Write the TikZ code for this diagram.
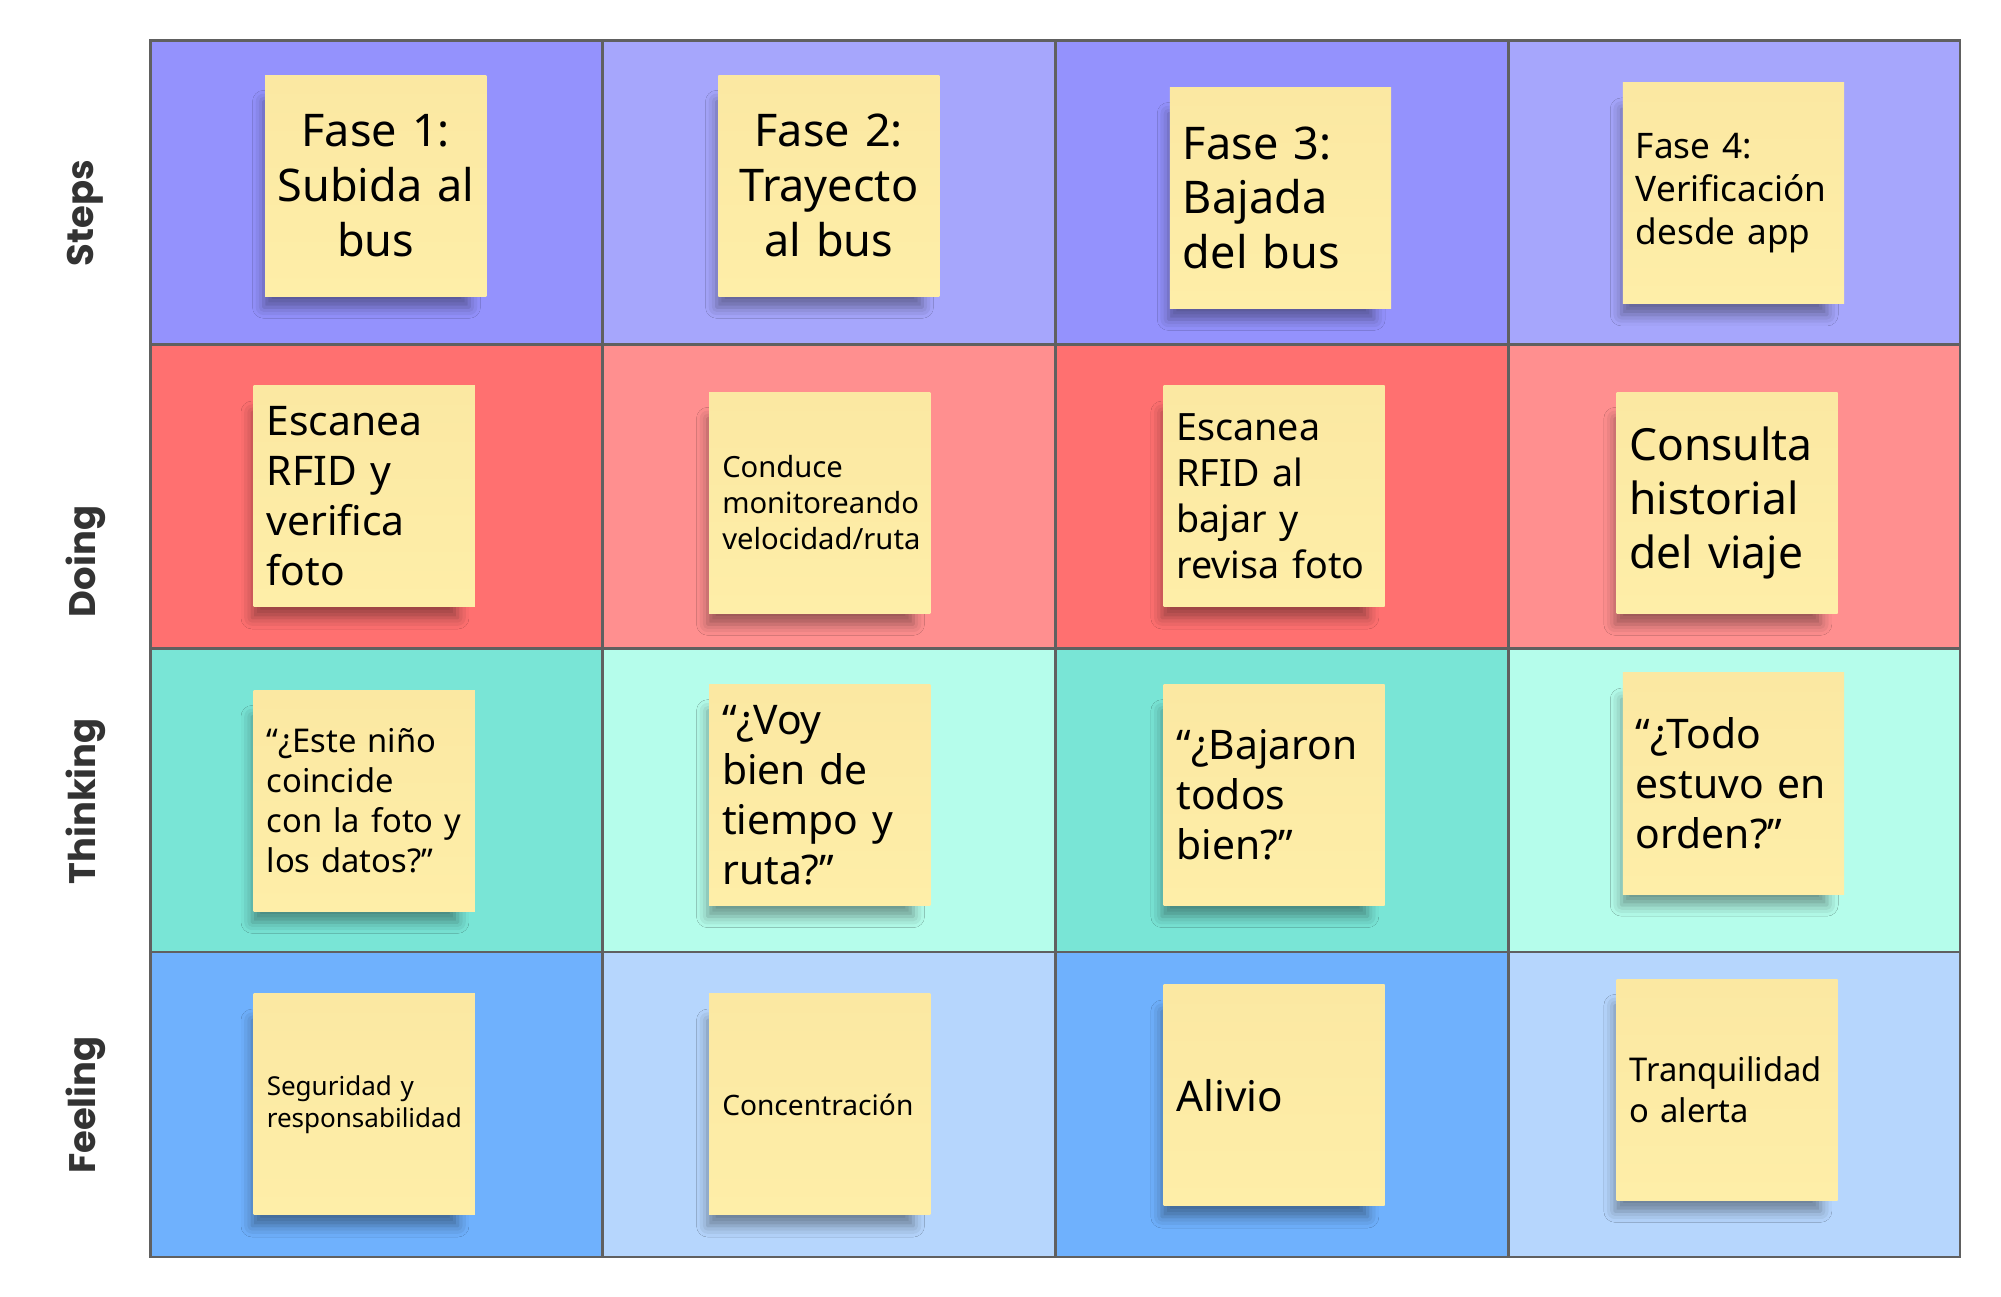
\documentclass[tikz,border=0pt]{standalone}
\usepackage{fontspec}
\setmainfont{Noto Sans}
\newfontfamily\labelfont{Poppins}
\usepackage{tikz}
\usetikzlibrary{shadows.blur}
\usepackage{xcolor}

\definecolor{StepsDark}{RGB}{148,146,253}
\definecolor{StepsLight}{RGB}{166,166,252}
\definecolor{DoingDark}{RGB}{255,112,112}
\definecolor{DoingLight}{RGB}{255,143,143}
\definecolor{ThinkDark}{RGB}{121,229,214}
\definecolor{ThinkLight}{RGB}{181,253,235}
\definecolor{FeelDark}{RGB}{111,177,253}
\definecolor{FeelLight}{RGB}{182,214,253}
\definecolor{StickyYellow}{RGB}{254,238,168}
\definecolor{StickyTop}{RGB}{251,232,162}
\definecolor{GridGray}{RGB}{96,96,96}
\definecolor{LabelGray}{RGB}{51,51,51}

\tikzset{
  sticky/.style={top color=StickyTop, bottom color=StickyYellow,
    minimum width=2.21cm, minimum height=2.21cm, text width=1.95cm,
    inner xsep=0.13cm, inner ysep=0pt, align=left,
    blur shadow={shadow xshift=-0.1cm, shadow yshift=-0.2cm, shadow scale=0.93,
      shadow blur radius=0.12cm, shadow opacity=40}},
  phase/.style={sticky, text width=2.15cm, inner xsep=0.03cm, align=center},
  rowlabel/.style={rotate=90, text=LabelGray,
    font=\labelfont\bfseries\fontsize{10.5}{12}\selectfont}
}

\begin{document}
\begin{tikzpicture}[x=0.01cm, y=-0.01cm]
\useasboundingbox (0,0) rectangle (2001,1296);

% cells
\fill[StepsDark]  (150.6,40.8) rectangle (602.3,344.5);
\fill[StepsLight] (602.3,40.8) rectangle (1055.3,344.5);
\fill[StepsDark]  (1055.3,40.8) rectangle (1508.3,344.5);
\fill[StepsLight] (1508.3,40.8) rectangle (1960,344.5);
\fill[DoingDark]  (150.6,344.5) rectangle (602.3,648.2);
\fill[DoingLight] (602.3,344.5) rectangle (1055.3,648.2);
\fill[DoingDark]  (1055.3,344.5) rectangle (1508.3,648.2);
\fill[DoingLight] (1508.3,344.5) rectangle (1960,648.2);
\fill[ThinkDark]  (150.6,648.2) rectangle (602.3,952);
\fill[ThinkLight] (602.3,648.2) rectangle (1055.3,952);
\fill[ThinkDark]  (1055.3,648.2) rectangle (1508.3,952);
\fill[ThinkLight] (1508.3,648.2) rectangle (1960,952);
\fill[FeelDark]   (150.6,952) rectangle (602.3,1257);
\fill[FeelLight]  (602.3,952) rectangle (1055.3,1257);
\fill[FeelDark]   (1055.3,952) rectangle (1508.3,1257);
\fill[FeelLight]  (1508.3,952) rectangle (1960,1257);

% grid
\draw[GridGray, line width=0.8pt] (150.6,40.8) rectangle (1960,1257);
\foreach \x in {602.3,1055.3,1508.3}
  \draw[GridGray, line width=0.8pt] (\x,40.8) -- (\x,1257);
\foreach \y in {344.5,648.2,952}
  \draw[GridGray, line width=0.8pt] (150.6,\y) -- (1960,\y);

% row labels
\node[rowlabel] (steps)    at (85.5,213)    {Steps};
\node[rowlabel] (doing)    at (85.5,561.4)  {Doing};
\node[rowlabel] (thinking) at (85.5,801.3)  {Thinking};
\node[rowlabel] (feeling)  at (85.5,1105)   {Feeling};

% steps
\node[phase, font=\fontsize{12.8}{15.6}\selectfont] (fase1) at (375.8,185.7)
  {Fase 1:\\Subida al\\bus};
\node[phase, font=\fontsize{12.8}{15.6}\selectfont] (fase2) at (828.8,185.7)
  {Fase 2:\\Trayecto\\al bus};
\node[sticky, font=\fontsize{12.8}{15.6}\selectfont] (fase3) at (1280.5,197.8)
  {Fase 3:\\Bajada\\del bus};
\node[sticky, font=\fontsize{10}{12.2}\selectfont] (fase4) at (1733.5,193.3)
  {Fase 4:\\Verificación\\desde app};

% doing
\node[sticky, font=\fontsize{11.6}{14.2}\selectfont] (doing1) at (364.3,496.4)
  {Escanea\\RFID y\\verifica\\foto};
\node[sticky, font=\fontsize{8.3}{10.2}\selectfont] (doing2) at (819.8,502.7)
  {Conduce\\monitoreando\\velocidad/ruta};
\node[sticky, font=\fontsize{10.7}{13.1}\selectfont] (doing3) at (1274.1,496.4)
  {Escanea\\RFID al\\bajar y\\revisa foto};
\node[sticky, font=\fontsize{12.6}{15.4}\selectfont] (doing4) at (1727.1,502.7)
  {Consulta\\historial\\del viaje};

% thinking
\node[sticky, font=\fontsize{9.3}{11.4}\selectfont] (think1) at (364.3,800.7)
  {“¿Este niño\\coincide\\con la foto y\\los datos?”};
\node[sticky, font=\fontsize{11.6}{14.2}\selectfont] (think2) at (819.8,795)
  {“¿Voy\\bien de\\tiempo y\\ruta?”};
\node[sticky, font=\fontsize{11.6}{14.2}\selectfont] (think3) at (1274.1,795)
  {“¿Bajaron\\todos\\bien?”};
\node[sticky, font=\fontsize{11.6}{14.2}\selectfont] (think4) at (1733.5,783.5)
  {“¿Todo\\estuvo en\\orden?”};

% feeling
\node[sticky, font=\fontsize{7.4}{9.1}\selectfont] (feel1) at (364.3,1104.4)
  {Seguridad y\\responsabilidad};
\node[sticky, font=\fontsize{8}{9.8}\selectfont] (feel2) at (819.8,1104.4)
  {Concentración};
\node[sticky, font=\fontsize{12}{14.6}\selectfont] (feel3) at (1274.1,1095.4)
  {Alivio};
\node[sticky, font=\fontsize{9.3}{11.4}\selectfont] (feel4) at (1727.1,1089.7)
  {Tranquilidad\\o alerta};
\end{tikzpicture}
\end{document}
